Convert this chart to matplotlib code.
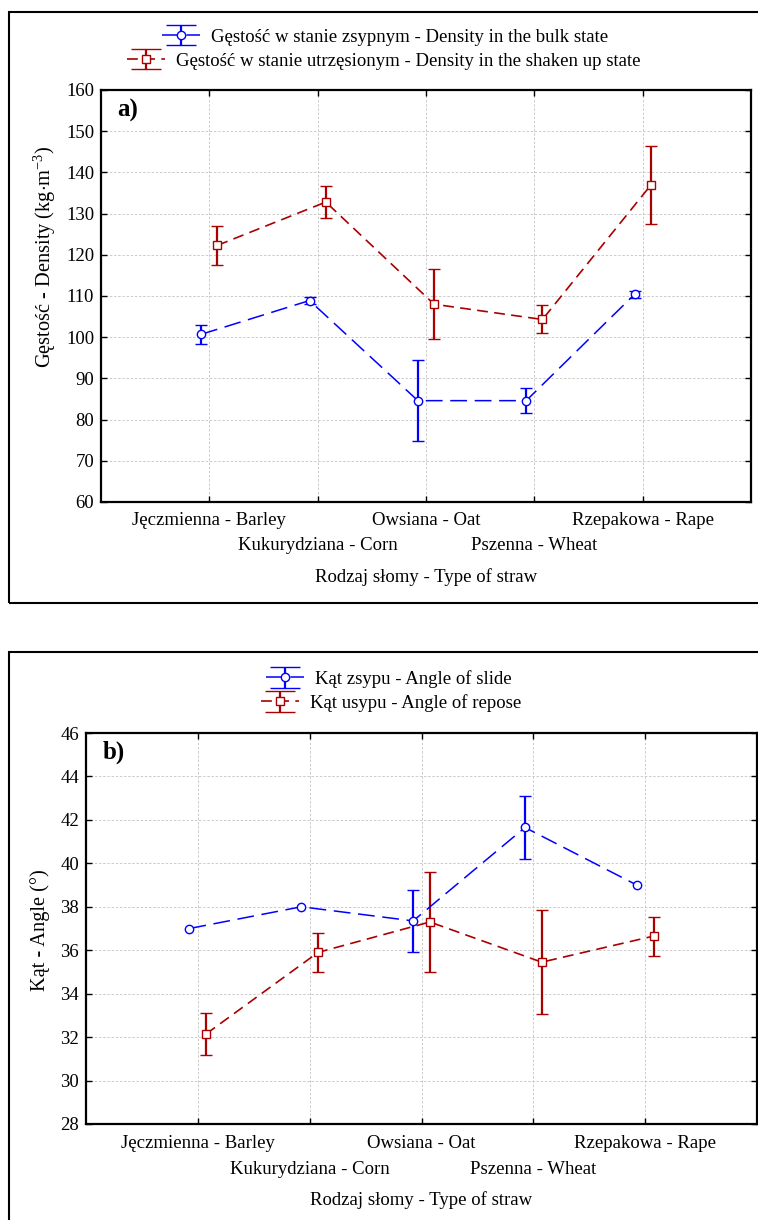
import matplotlib
matplotlib.use('Agg')
import matplotlib.pyplot as plt
import numpy as np
from matplotlib.patches import Rectangle
from matplotlib.legend_handler import HandlerErrorbar

plt.rcParams['font.family'] = ['Liberation Serif', 'DejaVu Serif']
plt.rcParams['mathtext.fontset'] = 'custom'
plt.rcParams['mathtext.rm'] = 'Liberation Serif'
plt.rcParams['mathtext.it'] = 'Liberation Serif:italic'
plt.rcParams['mathtext.bf'] = 'Liberation Serif:bold'

# ---------------- data ----------------
categories = ['Jęczmienna - Barley', 'Kukurydziana - Corn', 'Owsiana - Oat',
              'Pszenna - Wheat', 'Rzepakowa - Rape']

bulk_density = [100.7, 108.9, 84.6, 84.6, 110.4]
bulk_density_err = [2.3, 0.9, 9.8, 3.1, 0.9]
shaken_density = [122.3, 132.8, 108.0, 104.3, 136.9]
shaken_density_err = [4.7, 3.9, 8.5, 3.4, 9.5]

slide_angle = [37.0, 38.0, 37.35, 41.65, 39.0]
slide_angle_err = [np.nan, np.nan, 1.43, 1.44, np.nan]
repose_angle = [32.15, 35.9, 37.3, 35.45, 36.65]
repose_angle_err = [0.98, 0.9, 2.3, 2.4, 0.9]

density_yticks = [60, 70, 80, 90, 100, 110, 120, 130, 140, 150, 160]
angle_yticks = [28, 30, 32, 34, 36, 38, 40, 42, 44, 46]

labels_a = ['Gęstość w stanie zsypnym - Density in the bulk state',
            'Gęstość w stanie utrzęsionym - Density in the shaken up state']
labels_b = ['Kąt zsypu - Angle of slide', 'Kąt usypu - Angle of repose']

BLUE = '#0000FF'
RED = '#AA0000'
W, H = 758, 1220
FS = 13.5
LFS = 14.7

fig = plt.figure(figsize=(W / 100, H / 100), dpi=100)


def fx(px):
    return px / W


def fy(py):
    return 1 - py / H


STYLE1 = dict(color=BLUE, lw=1.1, linestyle=(0, (11, 5)), marker='o', ms=6,
              mfc='white', mec=BLUE, mew=1.0, ecolor=BLUE, elinewidth=1.6,
              capthick=1.6)
STYLE2 = dict(color=RED, lw=1.2, linestyle=(0, (6.5, 3.8)), marker='s', ms=6,
              mfc='white', mec=RED, mew=1.0, ecolor=RED, elinewidth=1.6,
              capthick=1.6)


def panel(rect, s1, e1, s2, e2, yticks, ylabel, tag, labels, leg_rows,
          ylab_pos, xlab_y, xpad, row2_off):
    l, t, r, b = rect
    ax = fig.add_axes([fx(l), fy(b), fx(r) - fx(l), fy(t) - fy(b)])
    x = np.arange(len(categories))
    off = 0.075
    ax.errorbar(x - off, s1, yerr=np.array(e1, dtype=float), capsize=4.3,
                zorder=3, **STYLE1)
    ax.errorbar(x + off, s2, yerr=np.array(e2, dtype=float), capsize=4.3,
                zorder=3, **STYLE2)
    # legend proxies (not drawn: NaN data) with wide caps like the reference
    p1 = ax.errorbar([np.nan], [np.nan], yerr=[1.0], capsize=11, **STYLE1)
    p2 = ax.errorbar([np.nan], [np.nan], yerr=[1.0], capsize=11, **STYLE2)
    ax.set_xlim(-1, 5)
    ax.set_ylim(yticks[0], yticks[-1])
    ax.set_yticks(yticks)
    ax.set_xticks(x)
    ax.set_xticklabels([c if i % 2 == 0 else '' for i, c in enumerate(categories)])
    for i, c in enumerate(categories):
        if i % 2 == 1:
            ax.annotate(c, xy=(x[i], 0), xycoords=('data', 'axes fraction'),
                        xytext=(0, row2_off), textcoords='offset points',
                        ha='center', va='top', fontsize=FS)
    ax.tick_params(direction='in', length=4, width=1.0, top=True, right=True,
                   labelsize=FS, colors='black')
    ax.tick_params(axis='x', pad=xpad)
    ax.tick_params(axis='y', pad=5)
    ax.grid(True, color='#c4c4c4', linestyle=(0, (3, 2)), lw=0.6, zorder=0)
    for sp in ax.spines.values():
        sp.set_linewidth(1.6)
    ax.text(0.025, 0.95, tag, transform=ax.transAxes, fontsize=18,
            fontweight='bold', ha='left', va='center')
    fig.text(fx(ylab_pos[0]), fy(ylab_pos[1]), ylabel, rotation=90,
             ha='center', va='center', fontsize=LFS)
    fig.text(fx((l + r) / 2), fy(xlab_y), 'Rodzaj słomy - Type of straw',
             ha='center', va='center', fontsize=FS)
    for h, lab, (cx, cy) in zip([p1, p2], labels, leg_rows):
        fig.legend(handles=[h], labels=[lab], loc='center',
                   bbox_to_anchor=(fx(cx), fy(cy)), frameon=False,
                   fontsize=FS, handlelength=2.0, handletextpad=0.6,
                   borderpad=0, borderaxespad=0,
                   handler_map={type(h): HandlerErrorbar(yerr_size=0.55)})
    return ax


# frames
fig.add_artist(Rectangle((fx(9), fy(603)), fx(770) - fx(9), fy(12) - fy(603),
                         transform=fig.transFigure, fill=False, lw=1.5,
                         ec='black', clip_on=False))
fig.add_artist(Rectangle((fx(9), fy(1240)), fx(770) - fx(9), fy(652) - fy(1240),
                         transform=fig.transFigure, fill=False, lw=1.5,
                         ec='black', clip_on=False))

panel((101, 90, 751, 502), bulk_density, bulk_density_err, shaken_density,
      shaken_density_err, density_yticks,
      'Gęstość - Density (kg$\\cdot$m$^{-3}$)', 'a)', labels_a,
      [(385, 37), (384, 61)], (45, 257), 577, 7.0, -25.5)

panel((86, 733, 757, 1124), slide_angle, slide_angle_err, repose_angle,
      repose_angle_err, angle_yticks, 'Kąt - Angle (°)', 'b)', labels_b,
      [(389, 679), (391, 703)], (40, 930), 1200, 8.0, -26.5)

fig.savefig('out.png', dpi=100)
